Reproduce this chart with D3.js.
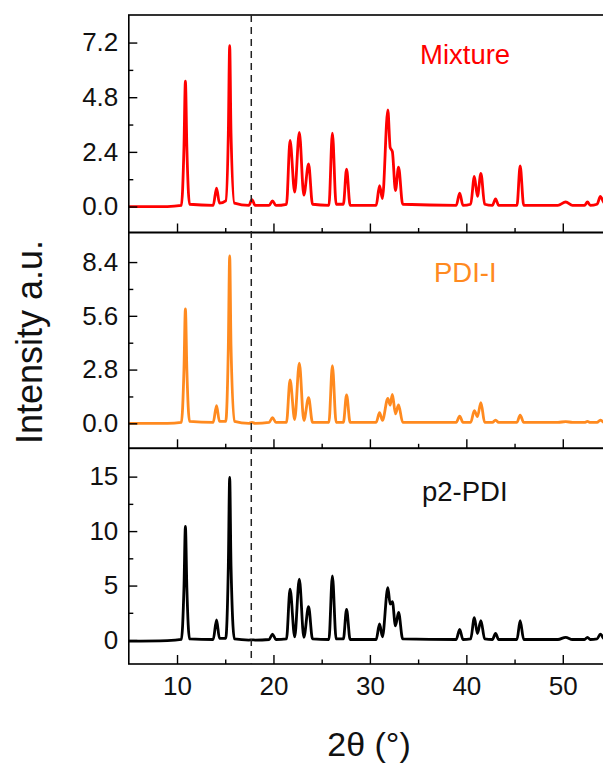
<!DOCTYPE html>
<html><head><meta charset="utf-8">
<script src="https://cdn.jsdelivr.net/npm/d3@7"></script>
<style>
body{margin:0;background:#fff}
svg{display:block}
text{font-family:"Liberation Sans",Arial,Helvetica,sans-serif}
</style>
</head><body>
<svg id="chart" width="603" height="765"></svg>
<script>
// ---------- data ----------
const twoTheta = [5, 9, 10.45, 10.72, 10.87, 11.02, 11.3, 13.75, 14.1, 14.4,
  15.05, 15.32, 15.46, 15.6, 15.95, 17.45, 17.77, 18.1, 19.55, 19.9,
  20.25, 21.35, 21.72, 22.2, 22.68, 23.15, 23.64, 24.05, 25.75, 26.11,
  26.5, 27.25, 27.58, 27.95, 28.5, 30.65, 31.0, 31.3, 31.86, 32.1,
  32.33, 32.65, 32.97, 33.4, 38.95, 39.31, 39.65, 40.45, 40.83, 41.15,
  41.51, 41.9, 42.7, 43.03, 43.35, 45.25, 45.58, 45.95, 49.5, 50.3,
  51.0, 52.25, 52.56, 52.85, 53.55, 53.9, 54.3, 55];
const mixture = [0, 0, 0.05, 2.6, 5.51, 2.6, 0.1, 0.05, 0.81, 0.15,
  0.25, 3.2, 7.06, 3.2, 0.15, 0.05, 0.3, 0.05, 0.05, 0.25,
  0.05, 0.1, 2.9, 0.63, 3.26, 0.5, 1.87, 0.1, 0.05, 3.22,
  0.1, 0.1, 1.64, 0.05, 0.05, 0.05, 0.92, 0.35, 4.24, 2.6,
  2.41, 0.7, 1.73, 0.1, 0.05, 0.59, 0.05, 0.1, 1.32, 0.45,
  1.46, 0.1, 0.05, 0.34, 0.05, 0.05, 1.78, 0.05, 0.05, 0.2,
  0.05, 0.05, 0.2, 0.05, 0.1, 0.44, 0.15, 0.1];
const pdiI = [0, 0, 0.05, 2.8, 5.96, 2.8, 0.1, 0.05, 0.92, 0.1,
  0.1, 4.0, 8.72, 4.0, 0.1, 0, 0.05, 0, 0.05, 0.3,
  0.05, 0.05, 2.26, 0.2, 3.13, 0.15, 1.34, 0.05, 0.05, 3.0,
  0.05, 0.05, 1.48, 0.05, 0.05, 0.05, 0.56, 0.15, 1.3, 0.95,
  1.51, 0.5, 0.96, 0.05, 0.05, 0.38, 0.05, 0.05, 0.66, 0.35,
  1.08, 0.05, 0.05, 0.17, 0.05, 0.05, 0.43, 0.05, 0.05, 0.09,
  0.05, 0.05, 0.1, 0.05, 0.05, 0.17, 0.05, 0.05];
const p2PDI = [-0.1, -0.05, 0.05, 4.8, 10.42, 4.8, 0.1, 0.05, 1.84, 0.15,
  0.15, 6.8, 14.92, 6.8, 0.1, 0, 0.02, 0, 0.05, 0.55,
  0.05, 0.1, 4.66, 0.3, 5.58, 0.25, 3.06, 0.1, 0.05, 5.88,
  0.1, 0.1, 2.82, 0.05, 0.05, 0.05, 1.47, 0.3, 4.81, 3.3,
  3.52, 1.3, 2.54, 0.1, 0.05, 0.98, 0.05, 0.1, 2.05, 0.6,
  1.78, 0.1, 0.05, 0.61, 0.05, 0.05, 1.78, 0.05, 0.05, 0.25,
  0.05, 0.05, 0.25, 0.05, 0.1, 0.55, 0.1, 0.1];

const seriesNames = ["Mixture", "PDI-I", "p2-PDI"];
const seriesColors = ["#ff0000", "#ff8a1f", "#000000"];
const yTicksMixture = [0, 2.4, 4.8, 7.2];
const yMinorMixture = [1.2, 3.6, 6.0];
const yTicksPdiI = [0, 2.8, 5.6, 8.4];
const yMinorPdiI = [1.4, 4.2, 7.0];
const yTicksP2 = [0, 5, 10, 15];
const yMinorP2 = [2.5, 7.5, 12.5];
const yDomains = [[-1.14, 8.41], [-1.30, 9.94], [-2.2, 17.6]];
const xTicks = [10, 20, 30, 40, 50];
const xMinorTicks = [15, 25, 35, 45];
const xDomain = [5, 55];
const dashedAt = 17.7;
const xTitle = "2θ (°)";
const yTitle = "Intensity a.u.";

// ---------- layout ----------
const svg = d3.select("#chart");
const left = 128.8, right = 611;
const panelTops = [15, 232.5, 448.3];
const panelBottoms = [232.5, 448.3, 664];
const x = d3.scaleLinear().domain(xDomain).range([left, right]);

const yTickSets = [
  {major: yTicksMixture, minor: yMinorMixture, fmt: d3.format(".1f")},
  {major: yTicksPdiI, minor: yMinorPdiI, fmt: d3.format(".1f")},
  {major: yTicksP2, minor: yMinorP2, fmt: d3.format("d")}
];
const data = [mixture, pdiI, p2PDI];
const labelPos = [[420, 64], [434, 282], [422, 501]];

svg.append("defs").selectAll("clipPath").data([0,1,2]).join("clipPath")
  .attr("id", i => "clip" + i)
  .append("rect")
  .attr("x", left).attr("y", i => panelTops[i])
  .attr("width", right - left).attr("height", i => panelBottoms[i] - panelTops[i]);

[0,1,2].forEach(i => {
  const y = d3.scaleLinear().domain(yDomains[i]).range([panelBottoms[i], panelTops[i]]);
  const g = svg.append("g");

  const line = d3.line().x((d, k) => x(twoTheta[k])).y(d => y(d)).curve(d3.curveMonotoneX);
  g.append("path").datum(data[i])
    .attr("clip-path", `url(#clip${i})`)
    .attr("fill", "none").attr("stroke", seriesColors[i])
    .attr("stroke-width", 2.8).attr("stroke-linejoin", "round")
    .attr("d", line);

  const ya = g.append("g").attr("transform", `translate(${left},0)`)
    .call(d3.axisLeft(y).tickValues(yTickSets[i].major).tickFormat(yTickSets[i].fmt)
      .tickSize(-8.5).tickPadding(10.5));
  ya.select(".domain").remove();
  ya.selectAll("line").attr("stroke", "#000").attr("stroke-width", 1.4);
  ya.selectAll("text").attr("font-size", 26).attr("fill", "#111")
    .attr("font-family", "'Liberation Sans', Arial, sans-serif");
  const ym = g.append("g").attr("transform", `translate(${left},0)`)
    .call(d3.axisLeft(y).tickValues(yTickSets[i].minor).tickFormat("").tickSize(-4.5));
  ym.select(".domain").remove();
  ym.selectAll("line").attr("stroke", "#000").attr("stroke-width", 1.4);

  const xa = g.append("g").attr("transform", `translate(0,${panelBottoms[i]})`)
    .call(d3.axisBottom(x).tickValues(xTicks).tickSize(-9).tickPadding(13)
      .tickFormat(i === 2 ? d3.format("d") : ""));
  xa.select(".domain").remove();
  xa.selectAll("line").attr("stroke", "#000").attr("stroke-width", 1.4);
  xa.selectAll("text").attr("font-size", 26).attr("fill", "#111")
    .attr("font-family", "'Liberation Sans', Arial, sans-serif");
  const xm = g.append("g").attr("transform", `translate(0,${panelBottoms[i]})`)
    .call(d3.axisBottom(x).tickValues(xMinorTicks).tickSize(-4.5).tickFormat(""));
  xm.select(".domain").remove();
  xm.selectAll("line").attr("stroke", "#000").attr("stroke-width", 1.4);

  g.append("rect").attr("x", left).attr("y", panelTops[i])
    .attr("width", right - left).attr("height", panelBottoms[i] - panelTops[i])
    .attr("fill", "none").attr("stroke", "#000").attr("stroke-width", 1.6);

  g.append("text").attr("x", labelPos[i][0]).attr("y", labelPos[i][1])
    .attr("font-size", 27.5).attr("fill", seriesColors[i] === "#000000" ? "#111" : seriesColors[i])
    .text(seriesNames[i]);
});

svg.append("line").attr("x1", x(dashedAt)).attr("x2", x(dashedAt))
  .attr("y1", panelTops[0]).attr("y2", panelBottoms[2])
  .attr("stroke", "#222").attr("stroke-width", 1.5).attr("stroke-dasharray", "7,5");

svg.append("text").attr("x", 369).attr("y", 756).attr("text-anchor", "middle")
  .attr("font-size", 34).attr("fill", "#111").text(xTitle);
svg.append("text").attr("transform", "translate(42,342) rotate(-90)")
  .attr("text-anchor", "middle").attr("font-size", 36).attr("fill", "#111").text(yTitle);
</script>
</body></html>
